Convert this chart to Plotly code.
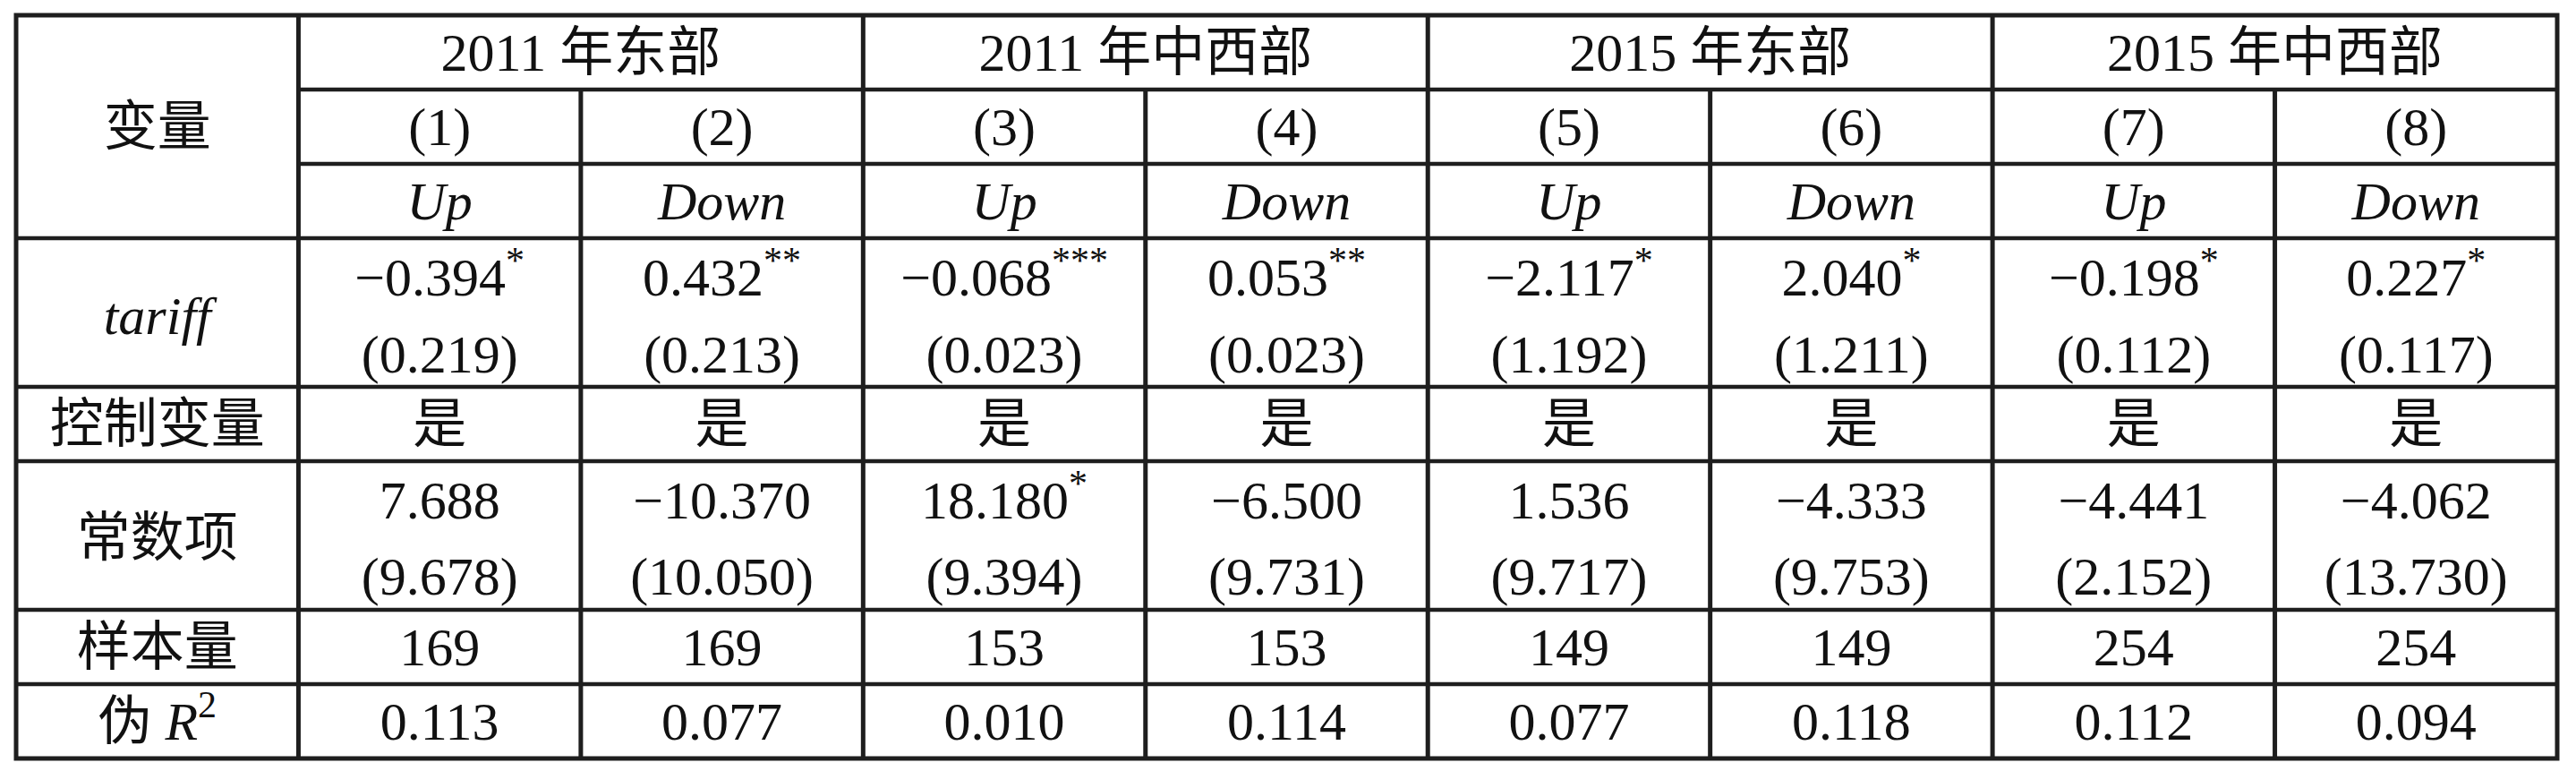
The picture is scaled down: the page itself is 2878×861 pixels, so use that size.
import plotly.graph_objects as go

# header texts
groups = ["2011 年东部", "2011 年中西部", "2015 年东部", "2015 年中西部"]
model_ids = ["(1)", "(2)", "(3)", "(4)", "(5)", "(6)", "(7)", "(8)"]
dep_vars = ["Up", "Down", "Up", "Down", "Up", "Down", "Up", "Down"]
row_labels = ["变量", "<i>tariff</i>", "控制变量", "常数项", "样本量", "伪 <i>R</i><sup>2</sup>"]

# regression results
tariff_coef = [-0.394, 0.432, -0.068, 0.053, -2.117, 2.040, -0.198, 0.227]
tariff_stars = ["*", "**", "***", "**", "*", "*", "*", "*"]
tariff_se = [0.219, 0.213, 0.023, 0.023, 1.192, 1.211, 0.112, 0.117]
controls = ["是", "是", "是", "是", "是", "是", "是", "是"]
const_coef = [7.688, -10.370, 18.180, -6.500, 1.536, -4.333, -4.441, -4.062]
const_stars = ["", "", "*", "", "", "", "", ""]
const_se = [9.678, 10.050, 9.394, 9.731, 9.717, 9.753, 2.152, 13.730]
n_obs = [169, 169, 153, 153, 149, 149, 254, 254]
pseudo_r2 = [0.113, 0.077, 0.010, 0.114, 0.077, 0.118, 0.112, 0.094]

# grid layout (in row units): header x3, tariff x2, control, const x2, N, R2
row_edges = [0, 1, 2, 3, 5, 6, 8, 9, 10]
n_cols = len(model_ids)

FONT = "Liberation Serif, Noto Sans CJK SC, serif"
LINE = "#1e1e1e"


def fmt(v):
    s = f"{abs(v):.3f}"
    return "\u2212" + s if v < 0 else s


def star(s):
    return f"<sup>{s}</sup>" if s else ""


col_x = [i + 1.5 for i in range(n_cols)]

fig = go.Figure()


def add_text(xs, ys, texts, size=60):
    fig.add_trace(go.Scatter(
        x=xs, y=ys, text=texts, mode="text",
        textposition="middle center",
        textfont=dict(family=FONT, size=size, color="#111111"),
        hoverinfo="skip", showlegend=False,
    ))


dy = 0.07  # nudge text down a little to sit on the cell centre
add_text([2 + 2 * g for g in range(len(groups))], [0.5 + dy] * len(groups), groups)
add_text(col_x, [1.5 + dy] * n_cols, model_ids)
add_text(col_x, [2.5 + dy] * n_cols, [f"<i>{d}</i>" for d in dep_vars])
add_text(col_x, [3.52 + dy] * n_cols, [fmt(c) + star(s) for c, s in zip(tariff_coef, tariff_stars)])
add_text(col_x, [4.56 + dy] * n_cols, [f"({fmt(v)})" for v in tariff_se])
add_text(col_x, [5.5 + dy] * n_cols, controls)
add_text(col_x, [6.52 + dy] * n_cols, [fmt(c) + star(s) for c, s in zip(const_coef, const_stars)])
add_text(col_x, [7.54 + dy] * n_cols, [f"({fmt(v)})" for v in const_se])
add_text(col_x, [8.5 + dy] * n_cols, [str(n) for n in n_obs])
add_text(col_x, [9.5 + dy] * n_cols, [fmt(r) for r in pseudo_r2])
add_text([0.5] * len(row_labels), [v + dy for v in [1.5, 4.04, 5.5, 7.03, 8.5, 9.5]], row_labels)

shapes = []
# outer border
shapes.append(dict(type="rect", x0=0, x1=n_cols + 1, y0=0, y1=row_edges[-1],
                   line=dict(color=LINE, width=5)))
# horizontal rules: first two header rules start after the label column
for k, y in enumerate(row_edges[1:-1], start=1):
    x0 = 1 if k < 3 else 0
    shapes.append(dict(type="line", x0=x0, x1=n_cols + 1, y0=y, y1=y,
                       line=dict(color=LINE, width=4.5)))
# vertical rules: label column and group edges run full height
for c in range(1, n_cols + 1):
    y0 = 0 if c % 2 == 1 else 1
    shapes.append(dict(type="line", x0=c, x1=c, y0=y0, y1=row_edges[-1],
                       line=dict(color=LINE, width=5)))

W, H = 2878, 861
left, right, top, bottom = 18, 2857, 17, 847
ux = (right - left) / (n_cols + 1)
uy = (bottom - top) / row_edges[-1]

fig.update_layout(
    width=W, height=H,
    margin=dict(l=0, r=0, t=0, b=0),
    paper_bgcolor="white", plot_bgcolor="white",
    shapes=shapes,
    xaxis=dict(range=[-left / ux, n_cols + 1 + (W - right) / ux], visible=False, fixedrange=True),
    yaxis=dict(range=[row_edges[-1] + (H - bottom) / uy, -top / uy], visible=False, fixedrange=True),
)

fig.write_html("out.html", config={"displayModeBar": False},
               post_script="document.body.style.margin='0';")
